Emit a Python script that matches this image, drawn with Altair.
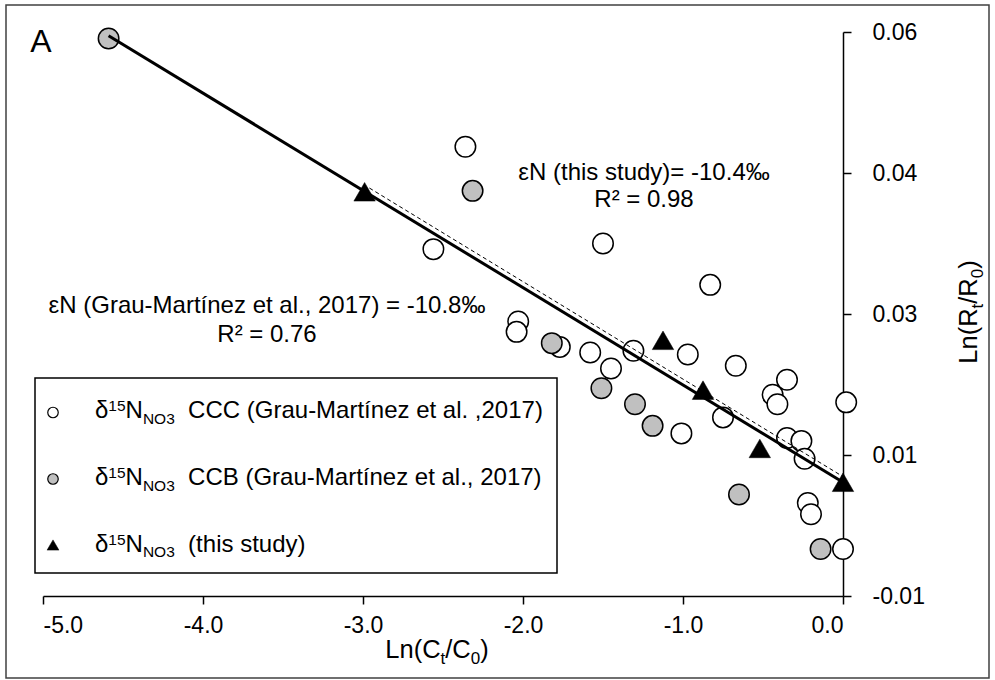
import altair as alt
import pandas as pd

# ---------------- data ----------------
ccc_x = [-2.36, -2.56, -1.50, -0.83, -2.03, -2.04, -1.77, -1.58, -1.31, -0.97, -1.45, -0.67,
         -0.35, -0.44, -0.41, 0.02, -0.75, -1.01, -0.35, -0.26, -0.24, -0.22, -0.20, 0.0]
ccc_y = [0.0428, 0.0319, 0.0325, 0.0281, 0.0242, 0.0231, 0.0215, 0.0209, 0.0211, 0.0207, 0.0192, 0.0195,
         0.0180, 0.0164, 0.0154, 0.0156, 0.0140, 0.0123, 0.0118, 0.0115, 0.0096, 0.0049, 0.0037, 0.0000]
ccb_x = [-4.59, -2.315, -1.82, -1.51, -1.30, -1.19, -0.65, -0.14]
ccb_y = [0.0543, 0.0381, 0.0219, 0.0171, 0.0154, 0.0131, 0.0058, 0.0000]
tri_x = [-2.99, -1.125, -0.875, -0.52, 0.0]
tri_y = [0.0380, 0.0222, 0.0169, 0.0107, 0.0071]
fit_solid_x = [-4.59, 0.0]
fit_solid_y = [0.0546, 0.0071]
fit_dash_x = [-2.96, 0.0]
fit_dash_y = [0.0384, 0.0077]

x_ticks = [-5, -4, -3, -2, -1, 0]
y_ticks = [-0.005, 0.01, 0.025, 0.04, 0.055]
y_tick_labels = ["-0.01", "0.01", "0.03", "0.04", "0.06"]

legend_labels = ["CCC (Grau-Martínez et al. ,2017)", "CCB (Grau-Martínez et al., 2017)", "(this study)"]
annot_grau = ["εN (Grau-Martínez et al., 2017) = -10.8‰", "R² = 0.76"]
annot_this = ["εN (this study)= -10.4‰", "R² = 0.98"]
panel_label = "A"

# ---------------- layout helpers ----------------
FONT = "Liberation Sans"
OX, OY = 43, 32          # plot origin on the page
W, H = 800, 564          # plot size

_w = {' ': 278, '(': 333, ')': 333, '-': 333, '.': 278, ',': 278, '/': 278, '=': 584, '‰': 1000,
      '²': 333, 'A': 667, 'B': 667, 'C': 722, 'G': 778, 'L': 556, 'M': 833, 'N': 722, 'O': 778,
      'R': 722, 'δ': 556, 'ε': 475, 'i': 222, 'í': 278, 'l': 222, 'r': 333, 's': 500, 't': 278,
      'y': 500, 'z': 500}


def tw(s, fs):
    return sum(_w.get(c, 556) for c in s) / 1000.0 * fs


def run(segs, x0, y0, angle=0):
    rows = []
    pos = x0 if angle == 0 else y0
    for text, fs, shift in segs:
        if angle == 0:
            rows.append(dict(px=pos - OX, py=y0 + shift - OY, text=text, fs=fs, ang=0))
            pos += tw(text, fs)
        else:
            rows.append(dict(px=x0 + shift - OX, py=pos - OY, text=text, fs=fs, ang=270))
            pos -= tw(text, fs)
    return rows, pos


left_rows = []
# legend text rows
row_base = [418.3, 485.0, 551.7]
for lab, b in zip(legend_labels, row_base):
    segs = [("δ", 24, 0), ("15", 15.5, -7.2), ("N", 24, 0), ("NO3", 15.5, 5.7)]
    r, endx = run(segs, 95, b)
    left_rows += r
    left_rows.append(dict(px=endx + 2 * tw(" ", 24) - OX, py=b - OY, text=lab, fs=24, ang=0))

# x axis title  Ln(Ct/C0)
xt_segs = [("Ln(C", 25.5, 0), ("t", 17, 6), ("/C", 25.5, 0), ("0", 17, 6), (")", 25.5, 0)]
xt_w = sum(tw(t, f) for t, f, _ in xt_segs)
r, _ = run(xt_segs, 437 - xt_w / 2, 658)
left_rows += r
# y axis title  Ln(Rt/R0)  rotated
yt_segs = [("Ln(R", 25.5, 0), ("t", 17, 6), ("/R", 25.5, 0), ("0", 17, 6), (")", 25.5, 0)]
yt_w = sum(tw(t, f) for t, f, _ in yt_segs)
r, _ = run(yt_segs, 977, 312 + yt_w / 2, angle=270)
left_rows += r
left_df = pd.DataFrame(left_rows)

center_rows = [
    dict(px=267 - OX, py=313 - OY, text=annot_grau[0], fs=24),
    dict(px=267 - OX, py=342 - OY, text=annot_grau[1], fs=24),
    dict(px=644 - OX, py=180 - OY, text=annot_this[0], fs=24),
    dict(px=644 - OX, py=207 - OY, text=annot_this[1], fs=24),
    dict(px=41 - OX, py=52 - OY, text=panel_label, fs=32),
]
center_df = pd.DataFrame(center_rows)

# ---------------- scales & axes ----------------
xs = alt.Scale(domain=[-5, 0], nice=False, zero=False)
ys = alt.Scale(domain=[-0.005, 0.055], nice=False, zero=False)

y_expr = "''"
for v, lab in reversed(list(zip(y_ticks, y_tick_labels))):
    y_expr = f"abs(datum.value - ({v})) < 1e-6 ? '{lab}' : ({y_expr})"

xaxis = alt.Axis(values=x_ticks, orient="bottom", title=None, grid=False,
                 labelExpr="(datum.value < -1e-9 ? '-' : '') + format(abs(datum.value), '.1f')",
                 tickSize=8, tickWidth=1.5, domainWidth=1.5, domainColor="black", tickColor="black",
                 labelFont=FONT, labelFontSize=23, labelColor="black", labelPadding=10)
yaxis = alt.Axis(values=y_ticks, orient="right", title=None, grid=False, labelExpr=y_expr,
                 tickSize=8, tickWidth=1.5, domainWidth=1.5, domainColor="black", tickColor="black",
                 labelFont=FONT, labelFontSize=23, labelColor="black", labelPadding=21,
                 labelAlign="left", labelBaseline="middle")

X = alt.X("x:Q", scale=xs, axis=xaxis)
Y = alt.Y("y:Q", scale=ys, axis=yaxis)

ccc_df = pd.DataFrame({"x": ccc_x, "y": ccc_y})
ccb_df = pd.DataFrame({"x": ccb_x, "y": ccb_y})
tri_df = pd.DataFrame({"x": tri_x, "y": tri_y})
solid_df = pd.DataFrame({"x": fit_solid_x, "y": fit_solid_y})
dash_df = pd.DataFrame({"x": fit_dash_x, "y": fit_dash_y})

one = pd.DataFrame({"a": [0]})

border = alt.Chart(one).mark_rect(fillOpacity=0, stroke="#404040", strokeWidth=1.5).encode(
    x=alt.value(6 - OX), x2=alt.value(989 - OX), y=alt.value(5 - OY), y2=alt.value(678 - OY))

ccc = alt.Chart(ccc_df).mark_point(shape="circle", filled=True, fill="white", stroke="black",
                                   strokeWidth=1.5, size=420, opacity=1).encode(x=X, y=Y)
ccb = alt.Chart(ccb_df).mark_point(shape="circle", filled=True, fill="#C0C0C0", stroke="black",
                                   strokeWidth=1.5, size=420, opacity=1).encode(x=X, y=Y)
tri = alt.Chart(tri_df).mark_point(shape="triangle-up", filled=True, fill="black", stroke="black",
                                   strokeWidth=0.5, size=460, opacity=1).encode(x=X, y=Y)
solid = alt.Chart(solid_df).mark_line(color="black", strokeWidth=3).encode(x=X, y=Y)
dash = alt.Chart(dash_df).mark_line(color="black", strokeWidth=1, strokeDash=[4, 3]).encode(x=X, y=Y)

legend_box = alt.Chart(one).mark_rect(fill="white", stroke="black", strokeWidth=1.5).encode(
    x=alt.value(35 - OX), x2=alt.value(557 - OX), y=alt.value(378 - OY), y2=alt.value(573 - OY))
lg_c1 = alt.Chart(one).mark_point(shape="circle", filled=True, fill="white", stroke="black",
                                  strokeWidth=1.2, size=110, opacity=1).encode(
    x=alt.value(53 - OX), y=alt.value(412.5 - OY))
lg_c2 = alt.Chart(one).mark_point(shape="circle", filled=True, fill="#C0C0C0", stroke="black",
                                  strokeWidth=1.2, size=110, opacity=1).encode(
    x=alt.value(53 - OX), y=alt.value(479 - OY))
lg_t = alt.Chart(one).mark_point(shape="triangle-up", filled=True, fill="black", stroke="black",
                                 strokeWidth=0.5, size=140, opacity=1).encode(
    x=alt.value(53 - OX), y=alt.value(545 - OY))

txt_left = alt.Chart(left_df).mark_text(align="left", baseline="alphabetic", font=FONT,
                                        color="black").encode(
    x=alt.X("px:Q", scale=None, axis=None), y=alt.Y("py:Q", scale=None, axis=None),
    text="text:N", size=alt.Size("fs:Q", scale=None, legend=None),
    angle=alt.Angle("ang:Q", scale=None))
txt_center = alt.Chart(center_df).mark_text(align="center", baseline="alphabetic", font=FONT,
                                            color="black").encode(
    x=alt.X("px:Q", scale=None, axis=None), y=alt.Y("py:Q", scale=None, axis=None),
    text="text:N", size=alt.Size("fs:Q", scale=None, legend=None))

chart = alt.layer(border, ccc, ccb, tri, solid, dash, legend_box, lg_c1, lg_c2, lg_t,
                  txt_left, txt_center).properties(
    width=W, height=H,
    padding={"left": OX, "top": OY, "right": 995 - OX - W, "bottom": 680 - OY - H},
    autosize=alt.AutoSizeParams(type="none"),
    background="white",
).configure_view(stroke=None)

chart.save("out.html", embed_options={"renderer": "svg", "actions": False})
